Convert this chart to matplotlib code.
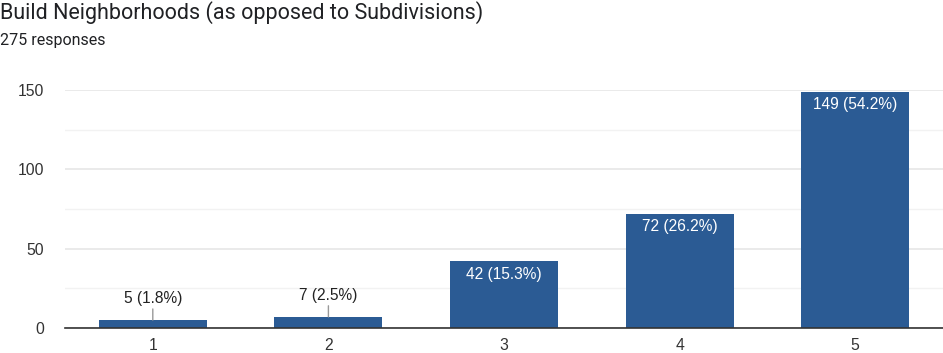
import matplotlib.pyplot as plt
from matplotlib.ticker import MultipleLocator

plt.rcParams['font.family'] = ['Liberation Sans', 'DejaVu Sans']

categories = ['1', '2', '3', '4', '5']
counts = [5, 7, 42, 72, 149]
percents = ['1.8%', '2.5%', '15.3%', '26.2%', '54.2%']
yticks = [0, 50, 100, 150]

bar_color = '#2b5b94'

fig = plt.figure(figsize=(9.43, 3.53), dpi=100)
ax = fig.add_axes([65 / 943, 25 / 353, 878 / 943, 238 / 353])

x = range(len(categories))
bars = ax.bar(x, counts, width=0.615, color=bar_color, zorder=3)

ax.set_xlim(-0.5, len(categories) - 0.5)
ax.set_ylim(0, 150)
ax.set_yticks(yticks)
ax.yaxis.set_minor_locator(MultipleLocator(25))
ax.set_xticks(list(x))
ax.set_xticklabels(categories)

ax.grid(axis='y', which='major', color='#e6e6e6', linewidth=1.2, zorder=0)
ax.grid(axis='y', which='minor', color='#f2f2f2', linewidth=1.0, zorder=0)
ax.tick_params(axis='both', which='both', length=0, labelsize=11.3, colors='#333333')
ax.tick_params(axis='y', pad=15)
ax.tick_params(axis='x', pad=7)

for side in ['left', 'right', 'top']:
    ax.spines[side].set_visible(False)
ax.spines['bottom'].set_color('#333333')
ax.spines['bottom'].set_linewidth(1.2)
ax.spines['bottom'].set_zorder(4)

for i, (c, p) in enumerate(zip(counts, percents)):
    label = '{} ({})'.format(c, p)
    if c < 20:
        ax.annotate(label, xy=(i, c), xytext=(0, 10), textcoords='offset points',
                    ha='center', va='bottom', fontsize=11.2, color='#222222',
                    arrowprops=dict(arrowstyle='-', color='#999999', lw=1,
                                    shrinkA=0, shrinkB=0))
    else:
        ax.annotate(label, xy=(i, c), xytext=(0, -4), textcoords='offset points',
                    ha='center', va='top', fontsize=11.2, color='white', zorder=5)

fig.text(0.0, 1 - 13 / 353, 'Build Neighborhoods (as opposed to Subdivisions)',
         fontsize=15.5, color='#202124', va='center', ha='left', family='Roboto')
fig.text(0.0, 1 - 40 / 353, '275 responses', fontsize=11.5, color='#202124',
         va='center', ha='left', family='Roboto')

fig.savefig('out.png', dpi=100)
